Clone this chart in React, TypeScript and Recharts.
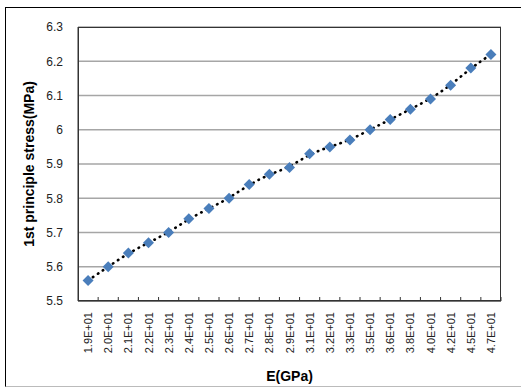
import React from "react";
import {
  ComposedChart,
  Line,
  XAxis,
  YAxis,
  CartesianGrid,
} from "recharts";

const categories = [
  "1.9E+01", "2.0E+01", "2.1E+01", "2.2E+01", "2.3E+01", "2.4E+01", "2.5E+01",
  "2.6E+01", "2.7E+01", "2.8E+01", "2.9E+01", "3.1E+01", "3.2E+01", "3.3E+01",
  "3.5E+01", "3.6E+01", "3.8E+01", "4.0E+01", "4.2E+01", "4.5E+01", "4.7E+01",
];

const stress = [
  5.56, 5.6, 5.64, 5.67, 5.7, 5.74, 5.77, 5.8, 5.84, 5.87, 5.89, 5.93, 5.95,
  5.97, 6.0, 6.03, 6.06, 6.09, 6.13, 6.18, 6.22,
];

const yTicks = [5.5, 5.6, 5.7, 5.8, 5.9, 6, 6.1, 6.2, 6.3];

const data = categories.map((e, i) => ({ e, stress: stress[i] }));

const W = 521;
const H = 388;
const M = { top: 27, right: 20, bottom: 27, left: 38 };
const Y_AXIS_W = 40;
const X_AXIS_H = 60;
const plotW = W - M.left - Y_AXIS_W - M.right;
const plotH = H - M.top - M.bottom - X_AXIS_H;
const band = plotW / categories.length;

const FONT = "'Liberation Sans', Arial, sans-serif";

const Diamond = (props: any) => {
  const { cx, cy } = props;
  if (cx == null || cy == null) return null;
  const r = 5.5;
  return (
    <path
      d={`M${cx},${cy - r}L${cx + r},${cy}L${cx},${cy + r}L${cx - r},${cy}Z`}
      fill="#4a7ebb"
    />
  );
};

const XTick = (props: any) => {
  const { x, y, payload } = props;
  return (
    <g>
      <line x1={x + band / 2} x2={x + band / 2} y1={y} y2={y - 4} stroke="#333" />
      <text
        transform={`translate(${x},${y + 11}) rotate(-90)`}
        textAnchor="end"
        dominantBaseline="central"
        fontSize={11}
        fontFamily={FONT}
        fill="#222"
      >
        {payload.value}
      </text>
    </g>
  );
};

export default function App() {
  return (
    <div style={{ position: "fixed", left: 0, top: 0, width: W, height: H, background: "#fff" }}>
      <div
        style={{
          position: "absolute",
          left: 5,
          top: 7,
          width: W - 5,
          height: H - 8,
          borderTop: "1px solid #000",
          borderLeft: "1px solid #000",
          borderBottom: "1px solid #bbb",
          boxSizing: "border-box",
        }}
      />
      <div style={{ position: "absolute", left: 0, top: 0 }}>
        <ComposedChart width={W} height={H} data={data} margin={M}>
          <CartesianGrid vertical={false} stroke="#a6a6a6" strokeWidth={1.5} />
          <XAxis
            dataKey="e"
            scale="band"
            interval={0}
            height={X_AXIS_H}
            tickSize={0}
            tickMargin={0}
            tickLine={false}
            axisLine={{ stroke: "#333" }}
            tick={<XTick />}
          />
          <YAxis
            domain={[5.5, 6.3]}
            ticks={yTicks}
            width={Y_AXIS_W}
            tickSize={0}
            tickMargin={15}
            tickLine={false}
            axisLine={{ stroke: "#333" }}
            tick={{ fontSize: 12, fontFamily: FONT, fill: "#222" }}
          />
          {/* smoothed trend through the same values */}
          <Line
            type="basis"
            dataKey="stress"
            stroke="#000"
            strokeWidth={2.6}
            strokeDasharray="0.5 5.5"
            strokeLinecap="round"
            dot={false}
            activeDot={false}
            isAnimationActive={false}
          />
          <Line
            dataKey="stress"
            stroke="none"
            dot={<Diamond />}
            activeDot={false}
            isAnimationActive={false}
          />
        </ComposedChart>
      </div>
      <div
        style={{
          position: "absolute",
          left: M.left + Y_AXIS_W,
          top: M.top,
          width: plotW,
          height: plotH,
          border: "1px solid #333",
          boxSizing: "border-box",
          pointerEvents: "none",
        }}
      />
      <div
        style={{
          position: "absolute",
          left: M.left + Y_AXIS_W + plotW / 2,
          top: 376,
          transform: "translate(-50%, -50%)",
          fontFamily: FONT,
          fontWeight: "bold",
          fontSize: 14,
          color: "#000",
          whiteSpace: "nowrap",
        }}
      >
        E(GPa)
      </div>
      <div
        style={{
          position: "absolute",
          left: 29,
          top: M.top + plotH / 2,
          transform: "translate(-50%, -50%) rotate(-90deg)",
          fontFamily: FONT,
          fontWeight: "bold",
          fontSize: 14,
          color: "#000",
          whiteSpace: "nowrap",
        }}
      >
        1st principle stress(MPa)
      </div>
    </div>
  );
}
